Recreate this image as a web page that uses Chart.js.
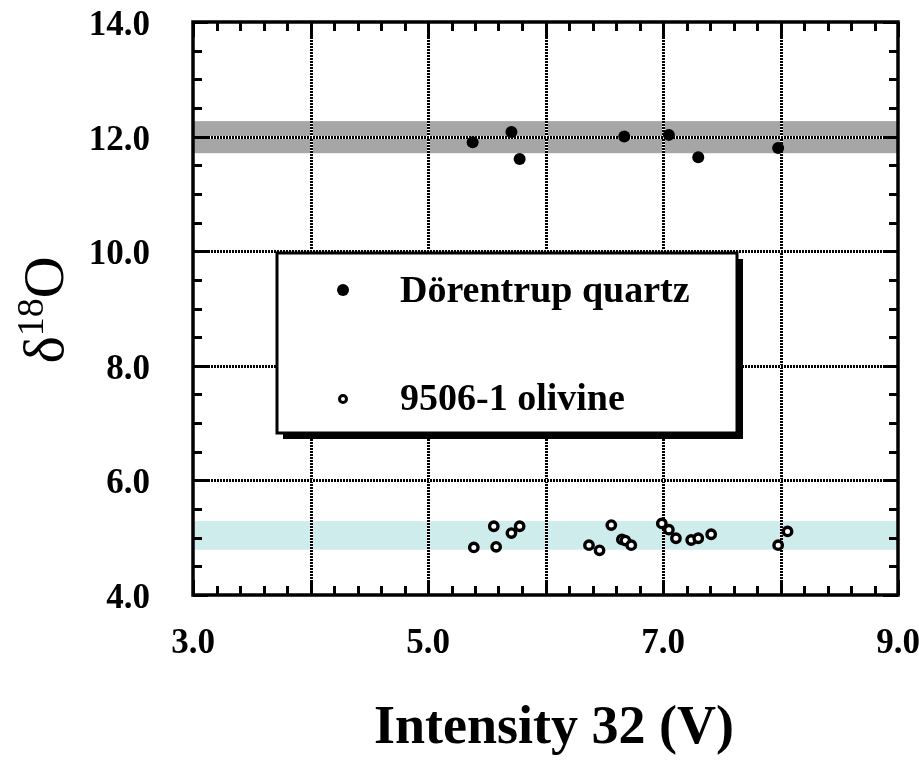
<!DOCTYPE html>
<html>
<head>
<meta charset="utf-8">
<script src="https://cdn.jsdelivr.net/npm/chart.js@4/dist/chart.umd.min.js"></script>
<style>
  body { margin: 0; background: #fff; overflow: hidden; }
</style>
</head>
<body>
<canvas id="isoChart" width="919" height="763"></canvas>
<script>
// Dörentrup quartz (filled dots)
var quartzX = [5.38, 5.71, 5.78, 6.67, 7.05, 7.30, 7.98];
var quartzY = [11.90, 12.08, 11.61, 12.00, 12.03, 11.64, 11.80];

// 9506-1 olivine (open circles)
var olivineX = [5.39, 5.56, 5.58, 5.71, 5.78, 6.37, 6.46, 6.56, 6.65, 6.68, 6.73, 6.99, 7.05, 7.11, 7.24, 7.30, 7.41, 7.98, 8.06];
var olivineY = [4.83, 5.20, 4.84, 5.08, 5.20, 4.87, 4.78, 5.22, 4.97, 4.95, 4.87, 5.25, 5.14, 4.99, 4.96, 4.99, 5.06, 4.87, 5.11];

// accepted value bands
var quartzBand = [11.71, 12.27];
var olivineBand = [4.79, 5.29];

var xTicks = [3, 4, 5, 6, 7, 8, 9];
var yTicks = [4, 6, 8, 10, 12, 14];

function toPoints(xs, ys) {
    return xs.map(function (x, i) { return { x: x, y: ys[i] }; });
}

var serif = '"Liberation Serif", "Times New Roman", serif';

function noPad(s) {
    s.paddingLeft = 0; s.paddingRight = 0; s.paddingTop = 0; s.paddingBottom = 0;
}

var framePlugin = {
    id: 'frame',
    beforeDatasetsDraw: function (chart) {
        var ctx = chart.ctx, a = chart.chartArea;
        var xs = chart.scales.x, ys = chart.scales.y;
        ctx.save();
        // bands
        ctx.fillStyle = '#a6a6a6';
        var t = ys.getPixelForValue(quartzBand[1]), b = ys.getPixelForValue(quartzBand[0]);
        ctx.fillRect(a.left, t, a.right - a.left, b - t);
        ctx.fillStyle = '#cdeceb';
        t = ys.getPixelForValue(olivineBand[1]); b = ys.getPixelForValue(olivineBand[0]);
        ctx.fillRect(a.left, t, a.right - a.left, b - t);

        // dotted grid: white under black dashes
        function gridLine(x1, y1, x2, y2) {
            ctx.lineWidth = 3;
            ctx.setLineDash([]);
            ctx.strokeStyle = '#fff';
            ctx.beginPath(); ctx.moveTo(x1, y1); ctx.lineTo(x2, y2); ctx.stroke();
            ctx.setLineDash([2, 1]);
            ctx.strokeStyle = '#000';
            ctx.beginPath(); ctx.moveTo(x1, y1); ctx.lineTo(x2, y2); ctx.stroke();
        }
        xTicks.slice(1, -1).forEach(function (v) {
            var px = Math.round(xs.getPixelForValue(v)) + 0.5;
            gridLine(px, a.top, px, a.bottom);
        });
        yTicks.slice(1, -1).forEach(function (v) {
            var py = Math.round(ys.getPixelForValue(v)) + 0.5;
            gridLine(a.left, py, a.right, py);
        });
        ctx.setLineDash([]);

        // inward ticks on all four sides
        ctx.strokeStyle = '#000';
        ctx.lineWidth = 3;
        ctx.beginPath();
        for (var i = 0; i <= 30; i++) {
            var v = 3 + i * 0.2;
            var len = (i % 5 === 0) ? 15 : 9;
            var px = Math.round(xs.getPixelForValue(v)) + 0.5;
            ctx.moveTo(px, a.bottom); ctx.lineTo(px, a.bottom - len);
            ctx.moveTo(px, a.top); ctx.lineTo(px, a.top + len);
        }
        for (var j = 0; j <= 20; j++) {
            var w = 4 + j * 0.5;
            var len2 = (j % 4 === 0) ? 15 : 9;
            var py = Math.round(ys.getPixelForValue(w)) + 0.5;
            ctx.moveTo(a.left, py); ctx.lineTo(a.left + len2, py);
            ctx.moveTo(a.right, py); ctx.lineTo(a.right - len2, py);
        }
        ctx.stroke();

        // axis frame
        var L = Math.round(xs.getPixelForValue(3)), R = Math.round(xs.getPixelForValue(9));
        var T = Math.round(ys.getPixelForValue(14)), B = Math.round(ys.getPixelForValue(4));
        ctx.lineWidth = 3.5;
        ctx.lineCap = 'square';
        ctx.beginPath();
        ctx.moveTo(L, T); ctx.lineTo(R, T); ctx.lineTo(R, B); ctx.lineTo(L, B); ctx.closePath();
        ctx.stroke();
        ctx.restore();
    },
    afterDraw: function (chart) {
        var ctx = chart.ctx;
        ctx.save();
        // legend box with drop shadow
        ctx.fillStyle = '#000';
        ctx.fillRect(283, 259, 460, 180);
        ctx.fillStyle = '#fff';
        ctx.fillRect(277, 253, 460, 180);
        ctx.lineWidth = 3;
        ctx.strokeStyle = '#000';
        ctx.strokeRect(277, 253, 460, 180);

        ctx.fillStyle = '#000';
        ctx.beginPath(); ctx.arc(343, 290, 6, 0, Math.PI * 2); ctx.fill();
        ctx.beginPath(); ctx.arc(343, 399, 3.5, 0, Math.PI * 2);
        ctx.lineWidth = 3; ctx.stroke();

        ctx.font = 'bold 38px ' + serif;
        ctx.textAlign = 'left';
        ctx.textBaseline = 'alphabetic';
        ctx.fillText(chart.data.datasets[0].label, 400, 302);
        ctx.fillText(chart.data.datasets[1].label, 400, 410);

        // x title
        ctx.font = 'bold 54px ' + serif;
        ctx.textAlign = 'center';
        ctx.fillText('Intensity 32 (V)', 554, 743);

        // y title: δ18O with superscript
        ctx.translate(63, 310);
        ctx.rotate(-Math.PI / 2);
        ctx.textAlign = 'left';
        var big = '58px ' + serif, small = '38px ' + serif;
        ctx.font = big; var w1 = ctx.measureText('δ').width;
        ctx.font = small; var w2 = ctx.measureText('18').width;
        ctx.font = big; var w3 = ctx.measureText('O').width;
        var x0 = -(w1 + w2 + w3) / 2;
        ctx.font = big; ctx.fillText('δ', x0, 0);
        ctx.font = small; ctx.fillText('18', x0 + w1, -20);
        ctx.font = big; ctx.fillText('O', x0 + w1 + w2, 0);
        ctx.restore();
    }
};

var ctx = document.getElementById('isoChart').getContext('2d');
var isoChart = new Chart(ctx, {
    type: 'scatter',
    data: {
        datasets: [{
            label: 'Dörentrup quartz',
            data: toPoints(quartzX, quartzY),
            backgroundColor: '#000',
            borderWidth: 0,
            pointRadius: 6
        }, {
            label: '9506-1 olivine',
            data: toPoints(olivineX, olivineY),
            backgroundColor: '#fff',
            borderColor: '#000',
            borderWidth: 3.4,
            pointRadius: 4.2
        }]
    },
    options: {
        responsive: false,
        animation: false,
        layout: {
            padding: { top: 22, right: 21, left: 0, bottom: 0 }
        },
        scales: {
            x: {
                min: 3,
                max: 9,
                afterFit: function (s) { s.height = 168; noPad(s); },
                afterBuildTicks: function (s) {
                    s.ticks = xTicks.map(function (v) { return { value: v }; });
                },
                grid: { display: false },
                border: { display: false },
                ticks: {
                    autoSkip: false,
                    maxRotation: 0,
                    padding: 20,
                    color: '#000',
                    font: { family: serif, size: 35, weight: 'bold' },
                    callback: function (v) { return (Math.round(v) % 2 === 1) ? Number(v).toFixed(1) : ''; }
                }
            },
            y: {
                min: 4,
                max: 14,
                afterFit: function (s) { s.width = 193; noPad(s); },
                afterBuildTicks: function (s) {
                    s.ticks = yTicks.map(function (v) { return { value: v }; });
                },
                grid: { display: false },
                border: { display: false },
                ticks: {
                    padding: 35,
                    labelOffset: 4,
                    color: '#000',
                    font: { family: serif, size: 35, weight: 'bold' },
                    callback: function (v) { return Number(v).toFixed(1); }
                }
            }
        },
        plugins: {
            legend: { display: false },
            tooltip: { enabled: false }
        }
    },
    plugins: [framePlugin]
});
</script>
</body>
</html>
